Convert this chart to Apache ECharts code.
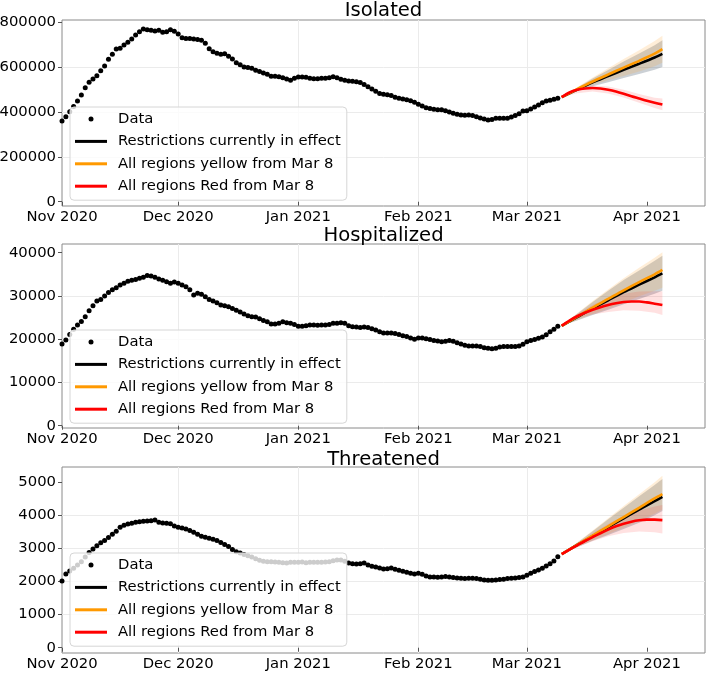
<!DOCTYPE html>
<html>
<head>
<meta charset="utf-8">
<script src="https://cdn.jsdelivr.net/npm/echarts@6/dist/echarts.min.js"></script>
<style>html,body{margin:0;padding:0;background:#fff}#c{width:709px;height:674px}</style>
</head>
<body>
<div id="c"></div>
<script>
// ---------- DATA (daily observations from Nov 1 2020, day index 0..128) ----------
const isolatedData = [360000,379000,401000,424000,449000,476000,508000,532000,547000,562000,584000,605000,635000,657000,681000,684000,699000,711000,725000,743000,758000,770000,766000,764000,761000,764000,755000,758000,766000,760000,748000,731000,728000,727000,725000,723000,720000,706000,682000,669000,662000,657000,660000,648000,636000,620000,610000,601000,598000,595000,586000,580000,574000,568000,559000,559000,557000,553000,547000,541000,550000,556000,556000,555000,550000,548000,548000,550000,550000,553000,557000,553000,546000,541000,538000,537000,535000,531000,523000,513000,502000,492000,482000,479000,477000,473000,466000,461000,458000,455000,450000,443000,434000,427000,419000,415000,412000,410000,410000,406000,400000,394000,390000,387000,385000,387000,384000,379000,373000,369000,364000,367000,372000,372000,372000,372000,378000,384000,392000,404000,406000,413000,422000,431000,441000,449000,452000,457000,461000];
const hospitalizedData = [18900,19800,21100,22300,23300,24100,25200,26600,27700,28800,29200,30000,30800,31400,31900,32500,32900,33400,33600,33800,34100,34300,34700,34600,34300,33900,33600,33300,32900,33200,32900,32500,32100,31400,30200,30600,30400,29800,29200,28800,28400,27900,27700,27500,27100,26700,26300,25800,25400,25200,25100,24700,24300,24000,23500,23500,23700,24000,23800,23700,23400,23000,23000,23100,23300,23300,23200,23300,23300,23400,23700,23700,23800,23700,23100,22900,22800,22700,22800,22700,22400,22100,21700,21400,21400,21400,21300,21100,20800,20600,20300,20000,20300,20300,20100,19900,19700,19600,19400,19500,19700,19500,19200,18900,18600,18400,18400,18400,18300,18000,17900,17800,17900,18200,18300,18300,18300,18300,18400,18800,19400,19700,19900,20200,20500,21000,21700,22300,23000];
const threatenedData = [2020,2230,2320,2400,2500,2600,2740,2880,2980,3080,3170,3240,3330,3430,3520,3640,3700,3740,3760,3790,3810,3820,3830,3840,3860,3790,3770,3760,3750,3680,3640,3620,3590,3540,3490,3430,3370,3340,3310,3280,3240,3180,3120,3060,2970,2900,2860,2820,2780,2740,2690,2640,2610,2600,2600,2590,2580,2570,2560,2580,2580,2580,2590,2570,2580,2580,2580,2580,2590,2600,2630,2650,2650,2610,2560,2540,2530,2540,2560,2500,2460,2440,2410,2380,2390,2410,2370,2340,2310,2280,2250,2230,2250,2220,2170,2140,2140,2130,2140,2150,2140,2120,2110,2100,2090,2100,2100,2090,2070,2050,2040,2040,2050,2060,2070,2090,2100,2110,2120,2140,2190,2250,2300,2350,2400,2470,2540,2620,2750];

// ---------- PROJECTIONS (day index from Nov 1 2020) ----------
const projDays = [129,133,137,141,145,149,153,155];
const redDays  = [129,131,133,135,137,139,141,143,145,147,149,151,153,155];

const isoBlack  = [466000,500000,532000,560000,588000,615000,643000,659000];
const isoYellow = [466000,502000,536000,567000,598000,628000,660000,680000];
const isoRed    = [466000,487000,499000,505000,507000,505000,499000,491000,481000,470000,460000,450000,441000,433000];
const isoBlackLo  = [466000,492000,515000,533000,551000,569000,588000,600000];
const isoBlackHi  = [466000,508000,549000,587000,625000,661000,698000,720000];
const isoYellowLo = [466000,494000,520000,541000,560000,581000,604000,620000];
const isoYellowHi = [466000,510000,554000,595000,636000,675000,716000,740000];
const isoRedLo    = [466000,484000,491000,482000,465000,441000,418000,408000];
const isoRedHi    = [466000,503000,518000,514000,499000,480000,464000,460000];

const hosBlack  = [23100,25100,27100,29000,30900,32600,34300,35200];
const hosYellow = [23100,25200,27300,29300,31300,33200,35000,36000];
const hosRed    = [23100,24300,25300,26100,26800,27400,27900,28300,28600,28700,28700,28500,28200,27900];
const hosBlackLo  = [23100,24300,25600,26800,28100,29300,30500,31200];
const hosBlackHi  = [23100,25900,28600,31200,33700,35900,38100,39300];
const hosYellowLo = [23100,24400,25800,27100,28500,29900,31200,31900];
const hosYellowHi = [23100,26000,28800,31500,34100,36500,38800,40100];
const hosRedLo    = [23100,24800,25700,26300,26700,26600,26100,25600];
const hosRedHi    = [23100,25800,27900,29500,30500,31000,31100,31100];

const thrBlack  = [2830,3105,3375,3645,3910,4175,4430,4560];
const thrYellow = [2830,3110,3390,3670,3950,4230,4510,4640];
const thrRed    = [2830,2965,3095,3225,3345,3460,3570,3670,3750,3810,3850,3870,3870,3857];
const thrBlackLo  = [2830,3040,3230,3410,3590,3780,4000,4130];
const thrBlackHi  = [2830,3170,3520,3880,4230,4580,4920,5100];
const thrYellowLo = [2830,3045,3245,3440,3630,3830,4050,4180];
const thrYellowHi = [2830,3180,3540,3910,4280,4640,5000,5200];
const thrRedLo    = [2830,3040,3220,3370,3470,3510,3490,3455];
const thrRedHi    = [2830,3150,3460,3740,3980,4150,4270,4310];

const titles = ['Isolated','Hospitalized','Threatened'];
const legendNames = ['Data','Restrictions currently in effect','All regions yellow from Mar 8','All regions Red from Mar 8'];
// month-start tick positions (days since Nov 1 2020) and their labels
const monthTickDays = [0, 30, 61, 92, 120, 151];
const monthTickLabels = ['Nov 2020','Dec 2020','Jan 2021','Feb 2021','Mar 2021','Apr 2021'];
const yTicks = [[0,200000,400000,600000,800000],[0,10000,20000,30000,40000],[0,1000,2000,3000,4000,5000]];

const panels = [
  {obs: isolatedData, black: isoBlack, yellow: isoYellow, red: isoRed, bLo: isoBlackLo, bHi: isoBlackHi, yLo: isoYellowLo, yHi: isoYellowHi, rLo: isoRedLo, rHi: isoRedHi, ymin: -19000, ymax: 810000},
  {obs: hospitalizedData, black: hosBlack, yellow: hosYellow, red: hosRed, bLo: hosBlackLo, bHi: hosBlackHi, yLo: hosYellowLo, yHi: hosYellowHi, rLo: hosRedLo, rHi: hosRedHi, ymin: -530, ymax: 42000},
  {obs: threatenedData, black: thrBlack, yellow: thrYellow, red: thrRed, bLo: thrBlackLo, bHi: thrBlackHi, yLo: thrYellowLo, yHi: thrYellowHi, rLo: thrRedLo, rHi: thrRedHi, ymin: -160, ymax: 5462}
];

const gridTops = [20, 244, 467];
const gridHeights = [186, 184, 186];
const titleTops = [0.5, 225.5, 449.5];
const legendTops = [107, 330, 553];
const FONT = 'DejaVu Sans';
const LINE_ICON = 'path://M0,0H32V3H0Z';

function band(name, gi, days, lo, hi, color){
  return {
    type: 'custom', name: name, xAxisIndex: gi, yAxisIndex: gi, silent: true, z: 1,
    data: days.map((d,i) => [d, lo[i], hi[i]]),
    encode: {x: 0, y: [1,2]},
    renderItem: function(params, api){
      if (params.dataIndex !== 0) return null;
      const pts = [];
      for (let i = 0; i < days.length; i++) pts.push(api.coord([days[i], lo[i]]));
      for (let i = days.length - 1; i >= 0; i--) pts.push(api.coord([days[i], hi[i]]));
      return {type: 'polygon', shape: {points: pts}, style: {fill: color}};
    }
  };
}
function line(name, gi, days, vals, color){
  return {
    type: 'line', name: name, xAxisIndex: gi, yAxisIndex: gi, z: 3,
    data: days.map((d,i) => [d, vals[i]]),
    smooth: 0.3, symbol: 'none', showSymbol: false,
    lineStyle: {color: color, width: 2.6}, itemStyle: {color: color}
  };
}

const grid = [], xAxis = [], yAxis = [], series = [], title = [], legend = [];
panels.forEach((p, gi) => {
  grid.push({left: 62, right: 4, top: gridTops[gi], height: gridHeights[gi], show: true, borderColor: '#8a8a8a', borderWidth: 1, backgroundColor: 'transparent', outerBoundsMode: 'none'});
  xAxis.push({
    type: 'value', gridIndex: gi, min: 0, max: 166,
    axisLine: {show: false},
    axisTick: {show: true, length: 4, lineStyle: {color: '#555'}, customValues: monthTickDays},
    axisLabel: {customValues: monthTickDays, margin: 4, color: '#000', fontSize: 14.8, fontFamily: FONT,
      formatter: function(v){ const k = monthTickDays.indexOf(Math.round(v)); return k >= 0 ? monthTickLabels[k] : ''; }},
    splitLine: {show: true, lineStyle: {color: '#ebebeb', width: 1}, showMinLine: false, showMaxLine: false}
  });
  yAxis.push({
    type: 'value', gridIndex: gi, min: p.ymin, max: p.ymax,
    axisLine: {show: false},
    axisTick: {show: true, length: 4, lineStyle: {color: '#555'}, customValues: yTicks[gi]},
    axisLabel: {customValues: yTicks[gi], margin: 6, color: '#000', fontSize: 14.8, fontFamily: FONT,
      formatter: function(v){ return String(Math.round(v)); }},
    splitLine: {show: true, lineStyle: {color: '#ebebeb', width: 1}, showMinLine: false, showMaxLine: false}
  });
  title.push({text: titles[gi], left: 383.5, top: titleTops[gi], textAlign: 'center', padding: 0,
    textStyle: {fontSize: 19.6, fontWeight: 'normal', color: '#000', fontFamily: FONT}});
  legend.push({
    data: [
      {name: legendNames[0], icon: 'circle'},
      {name: legendNames[1], icon: LINE_ICON},
      {name: legendNames[2], icon: LINE_ICON},
      {name: legendNames[3], icon: LINE_ICON}
    ],
    orient: 'vertical', left: 70, top: legendTops[gi],
    itemWidth: 32, itemHeight: 5, itemGap: 4.4, padding: [3, 6, 5, 5], selectedMode: false,
    backgroundColor: 'rgba(255,255,255,0.8)', borderColor: '#d6d6d6', borderWidth: 1, borderRadius: 4,
    textStyle: {fontSize: 14.8, color: '#000', fontFamily: FONT, lineHeight: 18, padding: [0,0,0,6]}
  });

  series.push(band('bandBlack' + gi, gi, projDays, p.bLo, p.bHi, 'rgba(70,85,105,0.28)'));
  series.push(band('bandYellow' + gi, gi, projDays, p.yLo, p.yHi, 'rgba(255,160,40,0.18)'));
  series.push(band('bandRed' + gi, gi, projDays, p.rLo, p.rHi, 'rgba(255,40,40,0.14)'));
  series.push({
    type: 'scatter', name: 'Data', xAxisIndex: gi, yAxisIndex: gi, z: 2,
    data: p.obs.map((v,i) => [i, v]),
    symbol: 'circle', symbolSize: 5, itemStyle: {color: '#000', opacity: 1}
  });
  series.push(line('Restrictions currently in effect', gi, projDays, p.black, '#000000'));
  series.push(line('All regions yellow from Mar 8', gi, projDays, p.yellow, '#ff9900'));
  series.push(line('All regions Red from Mar 8', gi, redDays, p.red, '#ff0000'));
});

const chart = echarts.init(document.getElementById('c'), null, {renderer: 'canvas'});
chart.setOption({
  animation: false,
  backgroundColor: '#ffffff',
  textStyle: {fontFamily: FONT},
  title: title, legend: legend, grid: grid, xAxis: xAxis, yAxis: yAxis, series: series
});
</script>
</body>
</html>
